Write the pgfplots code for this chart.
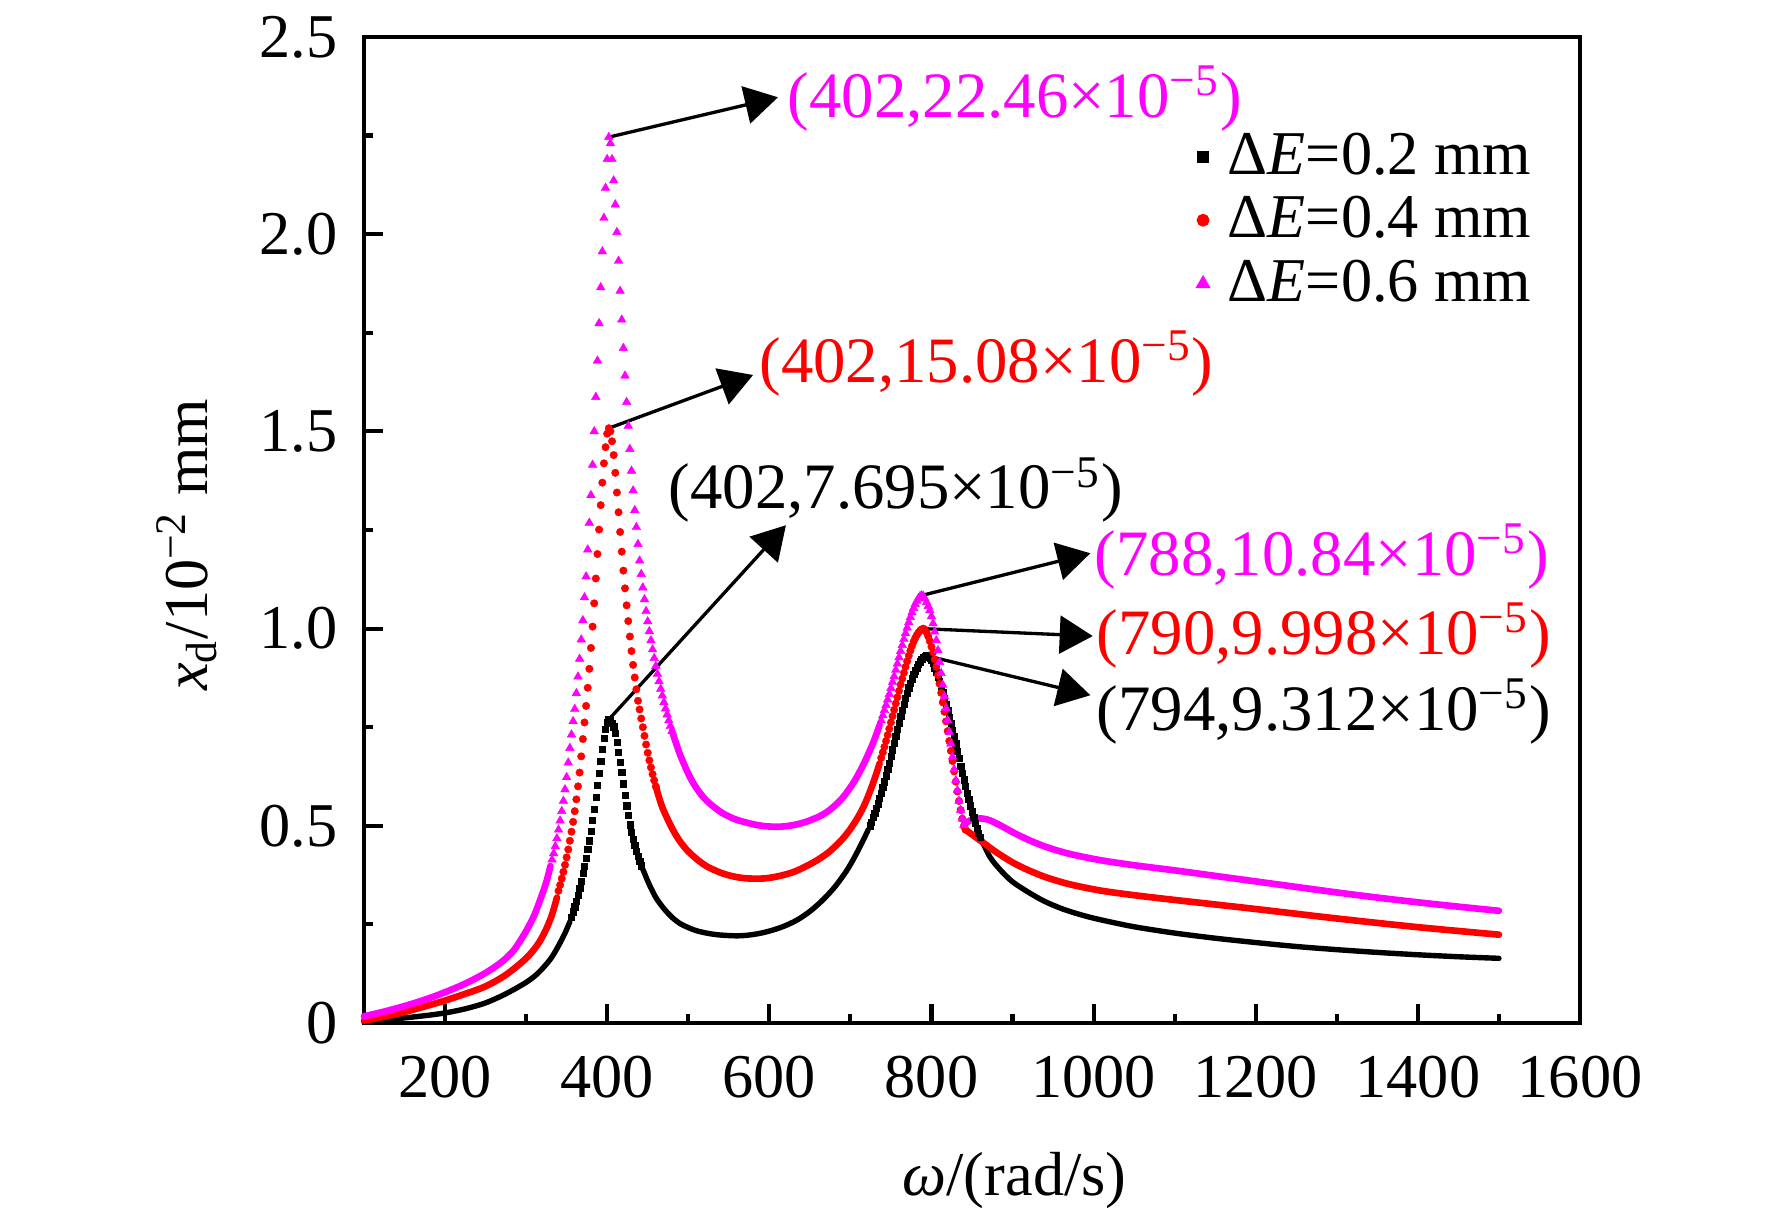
\documentclass[border=0pt]{standalone}
\usepackage{fontspec}
\setmainfont{Liberation Serif}
\usepackage{pgfplots}
\pgfplotsset{compat=1.18}
\usepackage{pgfplotstable}
\usetikzlibrary{arrows.meta}
\definecolor{mymag}{RGB}{255,0,255}
\definecolor{myred}{RGB}{255,0,0}
\newcommand{\fs}{\fontsize{15}{18}\selectfont}
\newcommand{\fa}{\fontsize{15.6}{18}\selectfont}

% ---------- Delta E = 0.2 mm (black) ----------
\pgfplotstableread{
x y
100 0.002
125 0.007
150 0.013
175 0.0185
200 0.0255
225 0.036
250 0.051
275 0.074
300 0.103
315 0.127
330 0.162
340 0.196
348 0.228
354 0.257
}\bA
\pgfplotstableread{
x y
356 0.268
358 0.282
360 0.295
362 0.308
364 0.325
366 0.342
368 0.360
370 0.379
372 0.398
374 0.418
376 0.440
378 0.462
380 0.487
382 0.515
384 0.543
386 0.572
388 0.603
390 0.633
392 0.664
394 0.695
396 0.722
398 0.745
400 0.762
402 0.7695
404 0.767
406 0.760
408 0.751
410 0.735
412 0.712
414 0.687
416 0.662
418 0.636
420 0.607
422 0.578
424 0.551
426 0.527
428 0.503
430 0.484
432 0.466
434 0.450
436 0.436
438 0.423
440 0.410
442 0.399
}\bB
\pgfplotstableread{
x y
442 0.399
446 0.380
450 0.360
455 0.338
461 0.315
470 0.290
480 0.268
490 0.252
500 0.242
510 0.234
525 0.227
540 0.223
560 0.221
575 0.223
590 0.228
605 0.236
620 0.247
635 0.262
650 0.283
665 0.310
680 0.343
695 0.385
705 0.420
715 0.460
722 0.490
}\bC
\pgfplotstableread{
x y
724 0.500
726 0.510
728 0.521
730 0.532
732 0.544
734 0.556
736 0.569
738 0.583
740 0.597
742 0.612
744 0.627
746 0.643
748 0.659
750 0.676
752 0.693
754 0.710
756 0.727
758 0.744
760 0.761
762 0.777
764 0.793
766 0.808
768 0.823
770 0.837
772 0.850
774 0.862
776 0.873
778 0.884
780 0.893
782 0.901
784 0.909
786 0.916
788 0.922
790 0.927
792 0.930
794 0.9312
796 0.930
798 0.926
800 0.920
802 0.912
804 0.901
806 0.889
808 0.877
810 0.866
812 0.852
814 0.838
816 0.824
818 0.809
820 0.793
822 0.776
824 0.760
826 0.743
828 0.726
830 0.708
832 0.690
834 0.672
836 0.652
838 0.634
840 0.617
842 0.600
844 0.583
846 0.567
848 0.551
850 0.536
852 0.521
854 0.507
856 0.494
858 0.482
860 0.472
}\bD
\pgfplotstableread{
x y
860 0.472
872 0.4215
885 0.388
900 0.358
920 0.331
940 0.308
962 0.289
985 0.274
1008 0.262
1050 0.244
1100 0.228
1150 0.215
1200 0.204
1250 0.194
1300 0.186
1350 0.179
1400 0.173
1450 0.168
1500 0.164
}\bE

% ---------- Delta E = 0.4 mm (red) ----------
\pgfplotstableread{
x y
100 0.006
125 0.016
150 0.028
175 0.042
200 0.057
225 0.074
250 0.093
275 0.122
300 0.164
315 0.201
325 0.239
332 0.275
338 0.318
}\rA
\pgfplotstableread{
x y
340 0.335
342 0.350
344 0.366
346 0.383
348 0.401
350 0.420
352 0.440
354 0.462
356 0.485
358 0.510
360 0.537
362 0.567
364 0.600
366 0.635
368 0.676
370 0.720
372 0.762
374 0.804
376 0.850
378 0.898
380 0.951
382 1.005
384 1.064
386 1.127
388 1.189
390 1.251
392 1.313
394 1.370
396 1.419
398 1.460
400 1.494
402 1.508
404 1.500
406 1.475
408 1.440
410 1.395
412 1.345
414 1.295
416 1.245
418 1.195
420 1.147
422 1.102
424 1.059
426 1.019
428 0.980
430 0.943
432 0.908
434 0.876
436 0.846
438 0.817
440 0.795
442 0.772
444 0.750
446 0.728
448 0.706
450 0.685
452 0.666
454 0.648
456 0.631
458 0.615
460 0.600
}\rB
\pgfplotstableread{
x y
460 0.600
465 0.565
470 0.537
481 0.490
490 0.460
500 0.435
512 0.413
523 0.397
540 0.381
555 0.372
570 0.367
588 0.366
600 0.368
615 0.374
630 0.383
645 0.397
660 0.414
675 0.436
690 0.466
700 0.492
710 0.524
718 0.556
726 0.597
732 0.632
736 0.658
}\rC
\pgfplotstableread{
x y
738 0.672
740 0.686
742 0.700
744 0.715
746 0.730
748 0.746
750 0.762
752 0.778
754 0.794
756 0.810
758 0.826
760 0.842
762 0.858
764 0.873
766 0.888
768 0.903
770 0.917
772 0.931
774 0.944
776 0.956
778 0.967
780 0.976
782 0.984
784 0.990
786 0.995
788 0.998
790 0.9998
792 0.997
794 0.990
796 0.980
798 0.968
800 0.954
802 0.940
804 0.922
806 0.903
808 0.882
810 0.860
812 0.837
814 0.813
816 0.789
818 0.765
820 0.740
822 0.715
824 0.690
826 0.664
828 0.638
830 0.612
832 0.587
834 0.563
836 0.540
838 0.518
840 0.499
842 0.490
}\rD
\pgfplotstableread{
x y
842 0.490
850 0.478
860 0.463
880 0.433
901 0.406
920 0.387
942 0.369
970 0.352
1008 0.336
1050 0.324
1100 0.312
1200 0.289
1300 0.265
1400 0.243
1500 0.224
}\rE

% ---------- Delta E = 0.6 mm (magenta) ----------
\pgfplotstableread{
x y
100 0.017
125 0.029
150 0.043
175 0.059
200 0.078
225 0.100
250 0.127
270 0.155
285 0.185
300 0.233
310 0.273
318 0.316
325 0.358
330 0.398
}\mA
\pgfplotstableread{
x y
332 0.414
334 0.430
336 0.448
338 0.468
340 0.490
342 0.513
344 0.537
346 0.563
348 0.592
350 0.623
352 0.660
354 0.697
356 0.731
358 0.765
360 0.796
362 0.836
364 0.878
366 0.923
368 0.972
370 1.021
372 1.079
374 1.132
376 1.200
378 1.268
380 1.338
382 1.415
384 1.500
386 1.587
388 1.679
390 1.774
392 1.865
394 1.956
396 2.041
398 2.117
400 2.190
402 2.246
404 2.230
406 2.190
408 2.136
410 2.075
412 2.005
414 1.932
416 1.856
418 1.783
420 1.711
422 1.641
424 1.574
426 1.514
428 1.455
430 1.400
432 1.350
434 1.300
436 1.257
438 1.214
440 1.172
442 1.138
444 1.104
446 1.074
448 1.044
450 1.018
452 0.993
454 0.970
456 0.947
458 0.925
460 0.905
462 0.885
464 0.866
466 0.847
468 0.830
470 0.813
472 0.797
474 0.782
476 0.767
478 0.753
480 0.740
}\mB
\pgfplotstableread{
x y
480 0.740
490 0.680
502 0.624
512 0.590
523 0.563
540 0.535
555 0.519
565 0.512
580 0.504
595 0.499
613 0.4977
630 0.502
645 0.510
662 0.524
675 0.541
690 0.570
704 0.610
716 0.655
728 0.710
736 0.755
}\mC
\pgfplotstableread{
x y
738 0.767
740 0.780
742 0.793
744 0.806
746 0.820
748 0.834
750 0.849
752 0.864
754 0.879
756 0.895
758 0.911
760 0.927
762 0.943
764 0.958
766 0.973
768 0.988
770 1.002
772 1.016
774 1.029
776 1.041
778 1.052
780 1.062
782 1.070
784 1.077
786 1.082
788 1.084
790 1.082
792 1.076
794 1.067
796 1.057
798 1.046
800 1.031
802 1.013
804 0.992
806 0.970
808 0.945
810 0.915
812 0.887
814 0.857
816 0.828
818 0.798
820 0.768
822 0.738
824 0.708
826 0.675
828 0.643
830 0.615
832 0.590
834 0.563
836 0.540
838 0.518
840 0.502
}\mD
\pgfplotstableread{
x y
840 0.502
844 0.509
850 0.516
856 0.519
864 0.518
872 0.514
885 0.501
901 0.483
920 0.464
942 0.446
970 0.429
1008 0.413
1050 0.400
1100 0.387
1150 0.373
1200 0.359
1250 0.345
1300 0.331
1350 0.318
1400 0.306
1450 0.295
1500 0.2845
}\mE

\begin{document}
\begin{tikzpicture}
\useasboundingbox (0,0) rectangle (15cm,10.26cm);
\begin{axis}[
  at={(3.081cm,1.600cm)}, anchor=south west,
  scale only axis, width=10.294cm, height=8.347cm,
  xmin=100, xmax=1600, ymin=0, ymax=2.5,
  xtick={200,400,600,800,1000,1200,1400,1600},
  xticklabels={200,400,600,800,1000,1200,1400,1600},
  minor xtick={300,500,700,900,1100,1300,1500},
  ytick={0,0.5,1,1.5,2,2.5},
  yticklabels={0,0.5,1.0,1.5,2.0,2.5},
  minor ytick={0.25,0.75,1.25,1.75,2.25},
  tick pos=left,
  tick align=inside,
  major tick length=0.16cm, minor tick length=0.08cm,
  axis line style={line width=1pt},
  every tick/.style={black, line width=1pt},
  tick label style={font=\fs},
  xticklabel style={yshift=-0.155cm},
  yticklabel style={xshift=-0.1cm},
  xlabel={\textit{ω}/(rad/s)},
  xlabel style={font=\fs, at={(axis description cs:0.535,-0.160)}, anchor=center},
  ylabel={\textit{x}\textsubscript{d}/10\textsuperscript{−2} mm},
  ylabel style={font=\fs, at={(axis description cs:-0.1456,0.485)}, anchor=center},
  clip=false,
  legend image code/.code={%
    \path[draw=none,fill=none] (-0.05cm,-0.05cm) rectangle (0.21cm,0.05cm);
    \draw[#1] plot coordinates {(0cm,0cm)};},
  legend style={draw=none, fill=none, font=\fs,
    at={(axis description cs:0.685,0.9026)}, anchor=north west,
    inner sep=0pt, outer sep=0pt, row sep=3.8pt,
    nodes={inner sep=0pt}},
  legend cell align=left,
]
\addlegendimage{only marks, mark=square*, mark size=1.2pt, black}
\addlegendentry{Δ\textit{E}=0.2 mm}
\addlegendimage{only marks, mark=*, mark size=1.35pt, myred}
\addlegendentry{Δ\textit{E}=0.4 mm}
\addlegendimage{only marks, mark=triangle*, mark size=1.7pt, mymag}
\addlegendentry{Δ\textit{E}=0.6 mm}

% black
\addplot[black, line width=1.3pt, line cap=round, smooth, forget plot] table {\bA};
\addplot[black, only marks, mark=square*, mark size=0.75pt, mark options={line width=0.1pt}, forget plot] table {\bB};
\addplot[black, line width=1.3pt, line cap=round, smooth, forget plot] table {\bC};
\addplot[black, only marks, mark=square*, mark size=0.75pt, mark options={line width=0.1pt}, forget plot] table {\bD};
\addplot[black, line width=1.3pt, line cap=round, smooth, forget plot] table {\bE};
% red
\addplot[myred, line width=1.6pt, line cap=round, smooth, forget plot] table {\rA};
\addplot[myred, only marks, mark=*, mark size=0.9pt, mark options={line width=0.1pt}, forget plot] table {\rB};
\addplot[myred, line width=1.6pt, line cap=round, smooth, forget plot] table {\rC};
\addplot[myred, only marks, mark=*, mark size=0.9pt, mark options={line width=0.1pt}, forget plot] table {\rD};
\addplot[myred, line width=1.6pt, line cap=round, smooth, forget plot] table {\rE};
% magenta
\addplot[mymag, line width=1.6pt, line cap=round, smooth, forget plot] table {\mA};
\addplot[mymag, only marks, mark=triangle*, mark size=1.2pt, mark options={line width=0.1pt}, forget plot] table {\mB};
\addplot[mymag, line width=1.6pt, line cap=round, smooth, forget plot] table {\mC};
\addplot[mymag, only marks, mark=triangle*, mark size=1.2pt, mark options={line width=0.1pt}, forget plot] table {\mD};
\addplot[mymag, line width=1.6pt, line cap=round, smooth, forget plot] table {\mE};

% annotations
\draw[line width=0.8pt, -{Triangle[length=0.28cm,width=0.32cm]}] (axis cs:402,2.246) -- (axis cs:610.7,2.347);
\node[anchor=west, text=mymag, font=\fa, inner sep=0pt] at (axis cs:621.8,2.343) {(402,22.46×10\textsuperscript{−5})};
\draw[line width=0.8pt, -{Triangle[length=0.28cm,width=0.32cm]}] (axis cs:402,1.508) -- (axis cs:580,1.643);
\node[anchor=west, text=myred, font=\fa, inner sep=0pt] at (axis cs:587,1.672) {(402,15.08×10\textsuperscript{−5})};
\draw[line width=0.8pt, -{Triangle[length=0.28cm,width=0.32cm]}] (axis cs:402,0.7695) -- (axis cs:620.5,1.262);
\node[anchor=west, text=black, font=\fa, inner sep=0pt] at (axis cs:475,1.351) {(402,7.695×10\textsuperscript{−5})};
\draw[line width=0.8pt, -{Triangle[length=0.28cm,width=0.32cm]}] (axis cs:788,1.084) -- (axis cs:996,1.191);
\node[anchor=west, text=mymag, font=\fa, inner sep=0pt] at (axis cs:1000.5,1.183) {(788,10.84×10\textsuperscript{−5})};
\draw[line width=0.8pt, -{Triangle[length=0.28cm,width=0.32cm]}] (axis cs:790,0.9998) -- (axis cs:999,0.981);
\node[anchor=west, text=myred, font=\fa, inner sep=0pt] at (axis cs:1003,0.983) {(790,9.998×10\textsuperscript{−5})};
\draw[line width=0.8pt, -{Triangle[length=0.28cm,width=0.32cm]}] (axis cs:794,0.9312) -- (axis cs:996,0.831);
\node[anchor=west, text=black, font=\fa, inner sep=0pt] at (axis cs:1003,0.789) {(794,9.312×10\textsuperscript{−5})};
\end{axis}
\end{tikzpicture}
\end{document}
